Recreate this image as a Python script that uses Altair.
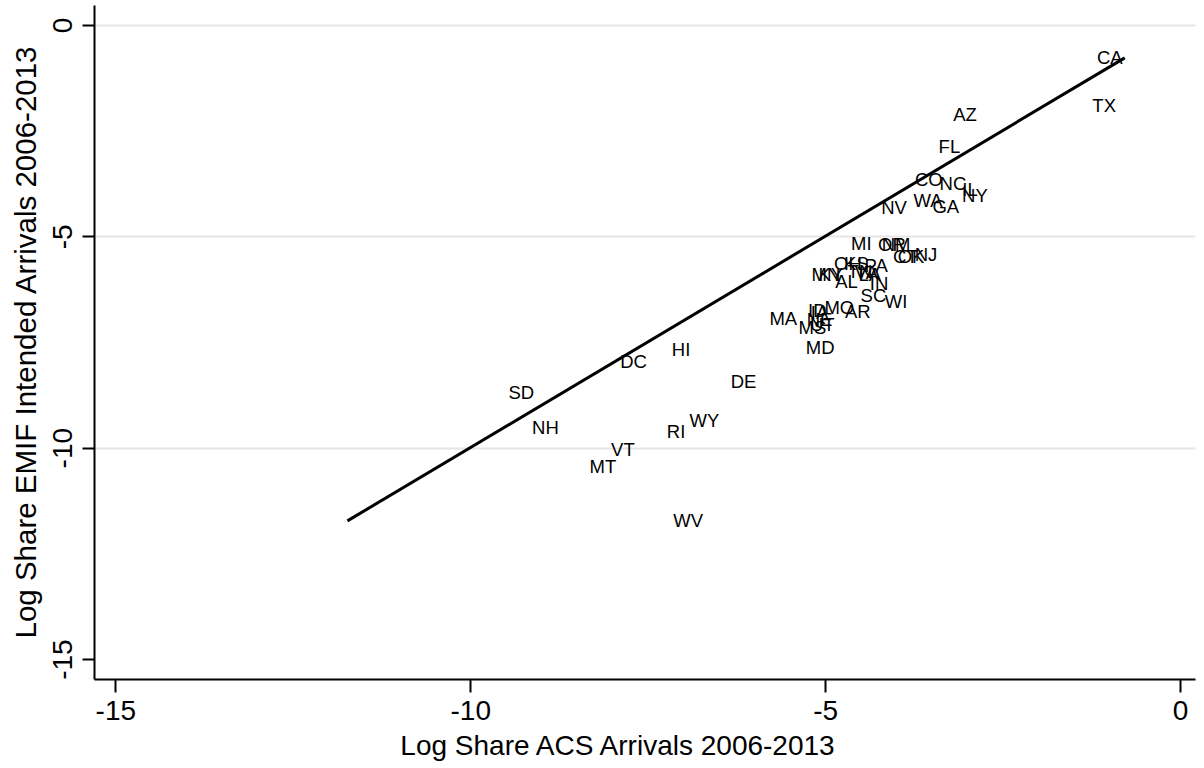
import altair as alt
import pandas as pd

# State postal codes with log shares of arrivals (ACS on x, EMIF on y)
states = [
    "CA", "TX", "AZ", "FL", "CO", "NC", "IL", "NY", "WA", "GA", "NV", "MI",
    "OR", "NM", "CT", "OK", "NJ", "OH", "KS", "PA", "MN", "KY", "TN", "VA",
    "LA", "AL", "IN", "SC", "WI", "MO", "AR", "ID", "IA", "NE", "MS", "UT",
    "MA", "MD", "HI", "DC", "DE", "SD", "NH", "RI", "WY", "VT", "MT", "WV",
]
log_acs = [
    -0.99, -1.07, -3.03, -3.25, -3.54, -3.20, -2.96, -2.89, -3.55, -3.30, -4.03, -4.49,
    -4.06, -4.00, -3.87, -3.79, -3.58, -4.68, -4.56, -4.28, -4.99, -4.92, -4.51, -4.42,
    -4.37, -4.70, -4.24, -4.32, -4.00, -4.80, -4.54, -5.11, -5.08, -5.08, -5.18, -5.04,
    -5.59, -5.07, -7.03, -7.70, -6.15, -9.28, -8.94, -7.10, -6.70, -7.85, -8.13, -6.93,
]
log_emif = [
    -0.78, -1.92, -2.13, -2.89, -3.67, -3.76, -3.90, -4.05, -4.16, -4.31, -4.33, -5.18,
    -5.20, -5.20, -5.49, -5.49, -5.44, -5.65, -5.65, -5.70, -5.91, -5.91, -5.84, -5.87,
    -5.91, -6.08, -6.13, -6.41, -6.55, -6.70, -6.79, -6.77, -6.81, -6.98, -7.17, -7.10,
    -6.96, -7.64, -7.69, -7.97, -8.45, -8.71, -9.53, -9.63, -9.37, -10.05, -10.46, -11.73,
]
x_ticks = [-15, -10, -5, 0]
y_ticks = [-15, -10, -5, 0]

FONT = "Liberation Sans"

points = pd.DataFrame({"state": states, "acs": log_acs, "emif": log_emif})

# 45-degree reference line spanning the range of the EMIF values
lo, hi = min(log_emif), max(log_emif)
diag = pd.DataFrame({"acs": [lo, hi], "emif": [lo, hi]})

x_scale = alt.Scale(domain=[-15.30, 0.21], nice=False, zero=False)
y_scale = alt.Scale(domain=[-15.47, 0.47], nice=False, zero=False)

x_axis = alt.Axis(
    title="Log Share ACS Arrivals 2006-2013",
    values=x_ticks, labelExpr="toString(datum.value)", grid=False,
    domainColor="black", domainWidth=2,
    tickColor="black", tickWidth=2, tickSize=13, labelPadding=5,
    labelFontSize=28, titleFontSize=28, labelFont=FONT, titleFont=FONT,
    labelColor="black", titleColor="black", titleFontWeight="normal",
    titlePadding=7, titleX=523, titleAnchor="middle",
)
y_axis = alt.Axis(
    title="Log Share EMIF Intended Arrivals 2006-2013",
    values=y_ticks, labelExpr="toString(datum.value)",
    grid=True, gridColor="#e6e6e6", gridWidth=2,
    gridOpacity={"condition": {"test": "datum.value == -15", "value": 0}, "value": 1},
    domainColor="black", domainWidth=2, tickColor="black", tickWidth=2, tickSize=12,
    labelAngle=270, labelAlign="center", labelBaseline="bottom", labelPadding=5,
    labelFontSize=28, titleFontSize=29.5, labelFont=FONT, titleFont=FONT,
    labelColor="black", titleColor="black", titleFontWeight="normal",
    titlePadding=8,
)

line = alt.Chart(diag).mark_line(color="black", strokeWidth=3).encode(
    x=alt.X("acs:Q", scale=x_scale, axis=x_axis),
    y=alt.Y("emif:Q", scale=y_scale, axis=y_axis),
)

labels = alt.Chart(points).mark_text(
    font=FONT, fontSize=18.5, color="black", align="center", baseline="middle"
).encode(
    x=alt.X("acs:Q", scale=x_scale),
    y=alt.Y("emif:Q", scale=y_scale),
    text="state:N",
)

chart = (
    alt.layer(line, labels)
    .properties(
        width=1101, height=674,
        autosize=alt.AutoSizeParams(type="none"),
        padding={"left": 94, "top": 5, "right": 9, "bottom": 89},
        background="white",
    )
    .configure_view(stroke=None)
)

chart.save("out.html", embed_options={"renderer": "svg", "actions": False})
